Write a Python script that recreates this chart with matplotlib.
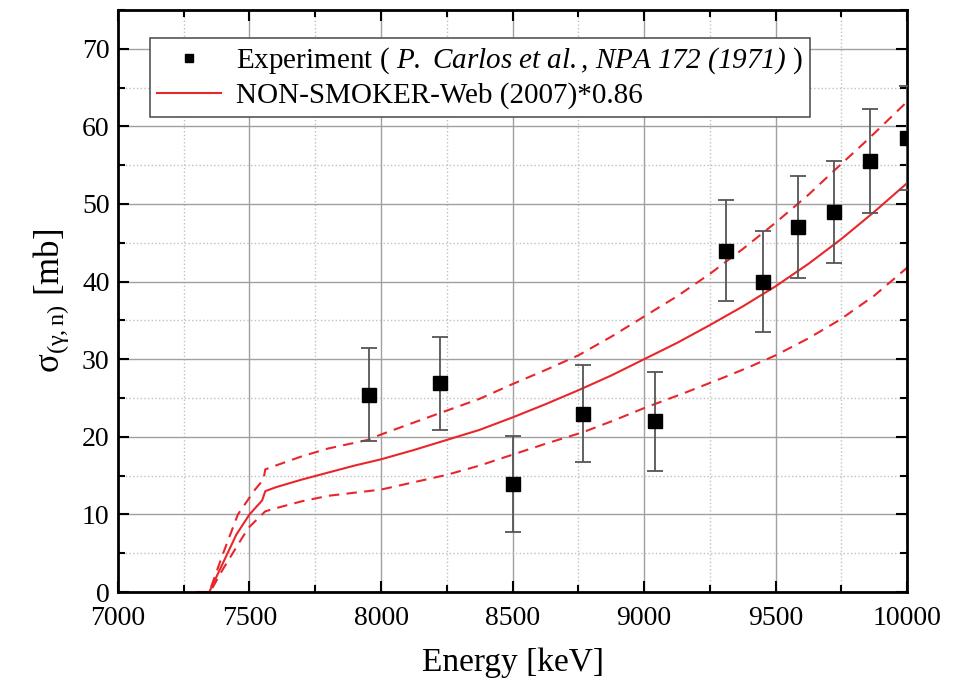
import matplotlib
matplotlib.use("Agg")
import matplotlib.pyplot as plt
from matplotlib.ticker import MultipleLocator

## Données

# points expérimentaux (P. Carlos et al.)
e_exp = [7954, 8224, 8500, 8768, 9042, 9313, 9452, 9586, 9722, 9860, 10000]
s_exp = [25.4, 26.9, 13.9, 23.0, 22.0, 44.0, 40.0, 47.0, 49.0, 55.5, 58.5]
err_exp = [6.0, 6.0, 6.2, 6.3, 6.4, 6.5, 6.5, 6.6, 6.6, 6.7, 6.7]

# NON-SMOKER*0.86, courbe centrale
e_th = [7300, 7347, 7400, 7450, 7500, 7548, 7560, 7600, 7700, 7800, 7900,
        8000, 8125, 8250, 8375, 8500, 8625, 8750, 8875, 9000, 9125, 9250,
        9375, 9500, 9625, 9750, 9875, 10000]
s_th = [0, 0, 3.8, 7.4, 10.0, 11.8, 13.0, 13.5, 14.5, 15.4, 16.3,
        17.1, 18.3, 19.6, 20.9, 22.5, 24.2, 26.0, 27.9, 30.0, 32.1, 34.4,
        36.8, 39.4, 42.3, 45.5, 49.0, 52.7]

# bornes haute et basse (tirets)
e_up = [7300, 7347, 7400, 7456, 7521, 7553, 7560, 7600, 7700, 7800, 7950,
        8000, 8227, 8375, 8500, 8625, 8750, 8875, 9000, 9125, 9250, 9375,
        9500, 9625, 9719, 9850, 10000]
s_up = [0, 0, 5.0, 10.0, 13.2, 14.5, 15.8, 16.3, 17.5, 18.5, 19.6,
        20.3, 23.1, 24.9, 26.8, 28.6, 30.5, 32.9, 35.5, 38.1, 41.0, 44.2,
        47.6, 51.2, 54.2, 58.3, 63.2]
e_low = [7300, 7350, 7400, 7476, 7500, 7560, 7600, 7700, 7800, 8000, 8250,
         8375, 8500, 8625, 8768, 8884, 9000, 9157, 9314, 9400, 9500, 9625,
         9745, 9875, 10000]
s_low = [0, 0, 3.0, 7.2, 8.4, 10.4, 10.8, 11.7, 12.4, 13.2, 15.1,
         16.3, 17.7, 19.1, 20.6, 22.1, 23.7, 25.7, 27.8, 29.0, 30.5, 32.7,
         35.1, 38.2, 41.8]

## Style

plt.rcParams['font.family'] = ['Liberation Serif', 'DejaVu Serif']
plt.rcParams['mathtext.fontset'] = 'custom'
plt.rcParams['mathtext.rm'] = 'Liberation Serif'
plt.rcParams['mathtext.it'] = 'Liberation Serif:italic'
plt.rcParams['mathtext.sf'] = 'Liberation Serif:italic'

rouge = '#e8262b'

fig = plt.figure(figsize=(9.59, 6.88), dpi=100)
ax = fig.add_axes([0.123, 0.1395, 0.823, 0.846])

## Tracé

ax.errorbar(e_exp, s_exp, yerr=err_exp, fmt='none', ecolor='#555555',
            elinewidth=1.3, capsize=6, capthick=1.3, zorder=3)
ax.plot(e_exp, s_exp, 's', color='black', markersize=10, zorder=4,
        label=r'Experiment ( $\mathsf{P.\ Carlos\ et\ al.{,}\ NPA\ 172\ (1971)}$ )')
ax.plot(e_th, s_th, '-', color=rouge, lw=1.5, zorder=2,
        label='NON-SMOKER-Web (2007)*0.86')
ax.plot(e_up, s_up, '--', color=rouge, lw=1.5, dashes=(5, 3.5), zorder=2)
ax.plot(e_low, s_low, '--', color=rouge, lw=1.5, dashes=(5, 3.5), zorder=2)

## Axes

ax.set_xlim(7000, 10000)
ax.set_ylim(0, 75)
ax.xaxis.set_major_locator(MultipleLocator(500))
ax.xaxis.set_minor_locator(MultipleLocator(250))
ax.yaxis.set_major_locator(MultipleLocator(10))
ax.yaxis.set_minor_locator(MultipleLocator(5))
ax.grid(which='major', color='#a0a0a0', lw=1.0, ls='-')
ax.grid(which='minor', color='#c0c0c0', lw=1.0, ls=':')
ax.set_axisbelow(True)
ax.tick_params(which='both', direction='in', top=True, right=True,
               labelsize=20, width=1.5, color='black')
ax.tick_params(which='major', length=8, pad=6)
ax.tick_params(axis='x', which='major', pad=10)
ax.tick_params(which='minor', length=5)
for s in ax.spines.values():
    s.set_linewidth(2)

ax.set_xlabel('Energy [keV]', fontsize=24, labelpad=12)
ax.set_ylabel(r'σ$_{\mathrm{(γ,n)}}$ [mb]', fontsize=25, labelpad=8)

leg = ax.legend(loc='upper left', bbox_to_anchor=(0.04, 0.951), fontsize=21,
                fancybox=False, framealpha=1, edgecolor='#555555',
                handlelength=2.2, borderpad=0.25, labelspacing=0.2,
                handletextpad=0.5, markerscale=0.6, borderaxespad=0)
leg.get_frame().set_linewidth(1.2)

plt.savefig("out.png", dpi=100)
